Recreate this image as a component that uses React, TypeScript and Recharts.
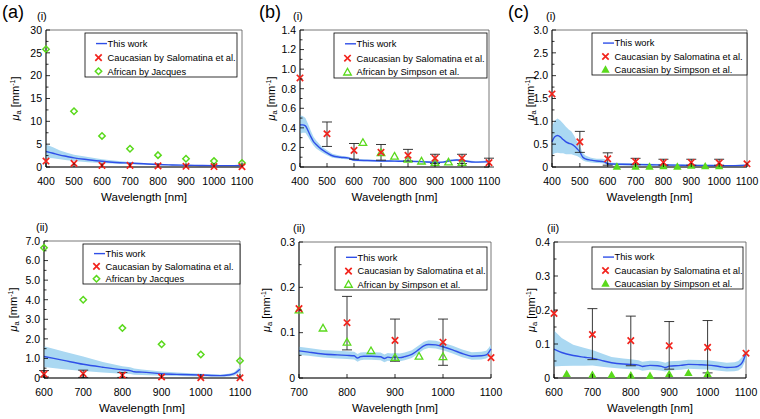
import React from 'react';
import { ComposedChart, Area, Line, Scatter, ErrorBar, XAxis, YAxis, ReferenceArea } from 'recharts';

const FONT = '"Liberation Sans", Arial, Helvetica, sans-serif';
const BLUE = '#2f4fe8';
const BAND = '#aad8f2';
const RED = '#f2231c';
const GREEN = '#5ad91c';

// shared axis ticks
const xTicks400 = [400, 500, 600, 700, 800, 900, 1000, 1100];
const xTicks600 = [600, 700, 800, 900, 1000, 1100];
const xTicks700 = [700, 800, 900, 1000, 1100];
const refWl400 = [400, 500, 600, 700, 800, 900, 1000, 1100];
const refWl600 = [600, 700, 800, 900, 1000, 1100];
const refWl700 = [700, 800, 900, 1000, 1100];
const simpsonWl = [633, 700, 750, 800, 850, 900, 950, 1000];
const simpsonWl2 = [700, 750, 800, 850, 900, 950, 1000];

// (a)(i)
const aiWl = [400, 425, 450, 475, 500, 550, 600, 650, 700, 750, 800, 850, 900, 950, 1000, 1050, 1100];
const aiMean = [3.4, 3.0, 2.6, 2.3, 2.0, 1.6, 1.25, 1.0, 0.85, 0.7, 0.55, 0.45, 0.38, 0.33, 0.3, 0.3, 0.32];
const aiLo = [2.0, 1.9, 1.7, 1.5, 1.3, 1.05, 0.85, 0.7, 0.6, 0.5, 0.4, 0.32, 0.27, 0.24, 0.22, 0.22, 0.24];
const aiHi = [4.9, 4.3, 3.6, 3.1, 2.7, 2.2, 1.7, 1.35, 1.1, 0.9, 0.72, 0.6, 0.5, 0.43, 0.4, 0.39, 0.42];
const aiRed = [1.3, 0.8, 0.35, 0.35, 0.25, 0.15, 0.1, 0.05];
const aiGreen = [25.8, 12.2, 6.8, 4.0, 2.6, 1.8, 1.3, 0.9];
const aiYTicks = [0, 2.5, 5, 7.5, 10, 12.5, 15, 17.5, 20, 22.5, 25, 27.5, 30];
const aiYMajor = [0, 5, 10, 15, 20, 25, 30];
const aiYLabels = ['0', '5', '10', '15', '20', '25', '30'];

// (a)(ii)
const aiiWl = [600, 650, 700, 750, 800, 820, 830, 850, 900, 950, 1000, 1050, 1070, 1085, 1100];
const aiiMean = [1.1, 0.9, 0.7, 0.55, 0.42, 0.38, 0.32, 0.3, 0.22, 0.18, 0.15, 0.12, 0.15, 0.22, 0.45];
const aiiLo = [0.56, 0.45, 0.36, 0.28, 0.22, 0.2, 0.17, 0.15, 0.12, 0.1, 0.08, 0.07, 0.08, 0.12, 0.3];
const aiiHi = [1.62, 1.35, 1.1, 0.82, 0.6, 0.55, 0.48, 0.44, 0.33, 0.27, 0.22, 0.18, 0.22, 0.3, 0.58];
const aiiRed = [0.2, 0.22, 0.15, 0.05, 0.02, 0.01];
const aiiRedLo = [0.05, 0.03, 0.03, null, null, null];
const aiiRedHi = [0.38, 0.4, 0.28, null, null, null];
const aiiGreen = [6.65, 4.0, 2.55, 1.72, 1.2, 0.88];
const aiiYTicks = [0, 0.5, 1, 1.5, 2, 2.5, 3, 3.5, 4, 4.5, 5, 5.5, 6, 6.5, 7];
const aiiYMajor = [0, 1, 2, 3, 4, 5, 6, 7];
const aiiYLabels = ['0', '1.0', '2.0', '3.0', '4.0', '5.0', '6.0', '7.0'];

// (b)(i)
const biWl = [400, 410, 420, 430, 440, 450, 460, 480, 500, 520, 550, 580, 600, 650, 700, 750, 800, 850, 900, 930, 960, 980, 1000, 1050, 1100];
const biMean = [0.43, 0.43, 0.42, 0.37, 0.31, 0.26, 0.23, 0.18, 0.145, 0.115, 0.1, 0.09, 0.072, 0.066, 0.062, 0.06, 0.058, 0.055, 0.046, 0.05, 0.066, 0.072, 0.066, 0.05, 0.055];
const biLo = [0.34, 0.35, 0.35, 0.31, 0.26, 0.22, 0.19, 0.15, 0.12, 0.095, 0.085, 0.076, 0.06, 0.055, 0.052, 0.05, 0.048, 0.045, 0.037, 0.041, 0.056, 0.062, 0.056, 0.041, 0.045];
const biHi = [0.53, 0.52, 0.5, 0.44, 0.37, 0.31, 0.27, 0.21, 0.17, 0.135, 0.115, 0.105, 0.085, 0.077, 0.072, 0.07, 0.068, 0.065, 0.055, 0.059, 0.076, 0.082, 0.076, 0.059, 0.066];
const biRed = [0.91, 0.34, 0.17, 0.15, 0.12, 0.09, 0.09, 0.045];
const biRedLo = [null, 0.21, 0.08, 0.07, 0.06, 0.035, 0.035, 0.0];
const biRedHi = [null, 0.46, 0.24, 0.23, 0.18, 0.13, 0.13, 0.09];
const biGreen = [0.25, 0.145, 0.11, 0.079, 0.06, 0.045, 0.05, 0.045];
const biYTicks = [0, 0.1, 0.2, 0.3, 0.4, 0.5, 0.6, 0.7, 0.8, 0.9, 1.0, 1.1, 1.2, 1.3, 1.4];
const biYMajor = [0, 0.2, 0.4, 0.6, 0.8, 1.0, 1.2, 1.4];
const biYLabels = ['0', '0.2', '0.4', '0.6', '0.8', '1.0', '1.2', '1.4'];

// (b)(ii)
const biiWl = [700, 720, 750, 780, 800, 815, 822, 828, 835, 850, 870, 878, 885, 892, 900, 910, 920, 935, 950, 960, 970, 985, 1000, 1020, 1040, 1060, 1080, 1090, 1095, 1100];
const biiMean = [0.06, 0.057, 0.053, 0.051, 0.05, 0.049, 0.044, 0.047, 0.048, 0.048, 0.047, 0.043, 0.046, 0.045, 0.046, 0.045, 0.047, 0.052, 0.063, 0.071, 0.074, 0.073, 0.069, 0.062, 0.054, 0.048, 0.049, 0.051, 0.056, 0.064];
const biiLo = [0.051, 0.049, 0.045, 0.043, 0.042, 0.041, 0.036, 0.039, 0.04, 0.04, 0.039, 0.035, 0.038, 0.037, 0.038, 0.037, 0.039, 0.044, 0.055, 0.063, 0.066, 0.065, 0.061, 0.054, 0.046, 0.04, 0.041, 0.043, 0.047, 0.055];
const biiHi = [0.069, 0.066, 0.062, 0.06, 0.059, 0.058, 0.053, 0.056, 0.057, 0.057, 0.056, 0.052, 0.055, 0.054, 0.055, 0.054, 0.056, 0.061, 0.072, 0.08, 0.083, 0.082, 0.078, 0.071, 0.063, 0.057, 0.058, 0.06, 0.066, 0.074];
const biiRed = [0.153, 0.122, 0.083, 0.079, 0.045];
const biiRedLo = [null, 0.062, 0.037, 0.028, null];
const biiRedHi = [null, 0.18, 0.13, 0.13, null];
const biiGreen = [0.15, 0.11, 0.079, 0.06, 0.045, 0.048, 0.047];
const biiYTicks = [0, 0.05, 0.1, 0.15, 0.2, 0.25, 0.3];
const biiYMajor = [0, 0.1, 0.2, 0.3];
const biiYLabels = ['0', '0.1', '0.2', '0.3'];

// (c)(i)
const ciWl = [400, 410, 420, 430, 440, 450, 460, 470, 480, 490, 500, 510, 520, 540, 560, 580, 590, 600, 650, 700, 750, 800, 850, 900, 950, 1000, 1050, 1100];
const ciMean = [0.55, 0.66, 0.69, 0.66, 0.6, 0.55, 0.52, 0.5, 0.46, 0.4, 0.33, 0.22, 0.18, 0.15, 0.13, 0.12, 0.11, 0.07, 0.06, 0.055, 0.05, 0.045, 0.04, 0.035, 0.035, 0.03, 0.03, 0.04];
const ciLo = [0.27, 0.3, 0.31, 0.3, 0.3, 0.28, 0.28, 0.28, 0.26, 0.24, 0.2, 0.15, 0.12, 0.1, 0.09, 0.08, 0.07, 0.04, 0.035, 0.03, 0.028, 0.025, 0.022, 0.02, 0.02, 0.017, 0.017, 0.022];
const ciHi = [0.9, 1.02, 1.06, 1.02, 0.95, 0.88, 0.82, 0.78, 0.68, 0.56, 0.46, 0.31, 0.25, 0.2, 0.18, 0.18, 0.17, 0.1, 0.085, 0.08, 0.072, 0.065, 0.058, 0.05, 0.05, 0.043, 0.043, 0.058];
const ciRed = [1.6, 0.55, 0.18, 0.12, 0.1, 0.1, 0.09, 0.07];
const ciRedLo = [null, 0.32, 0.04, 0.05, 0.04, 0.04, 0.04, null];
const ciRedHi = [null, 0.78, 0.31, 0.19, 0.17, 0.17, 0.17, null];
const ciGreen = [0.01, 0.01, 0.01, 0.02, 0.01, 0.03, 0.02, 0.02];
const ciYTicks = [0, 0.25, 0.5, 0.75, 1, 1.25, 1.5, 1.75, 2, 2.25, 2.5, 2.75, 3];
const ciYMajor = [0, 0.5, 1, 1.5, 2, 2.5, 3];
const ciYLabels = ['0', '0.5', '1.0', '1.5', '2.0', '2.5', '3.0'];

// (c)(ii)
const ciiWl = [600, 620, 650, 680, 700, 730, 750, 780, 800, 820, 830, 850, 870, 880, 890, 900, 930, 950, 980, 1000, 1030, 1050, 1070, 1080, 1090, 1100];
const ciiMean = [0.085, 0.075, 0.066, 0.061, 0.058, 0.05, 0.045, 0.041, 0.04, 0.038, 0.034, 0.037, 0.036, 0.034, 0.031, 0.035, 0.037, 0.04, 0.039, 0.038, 0.034, 0.031, 0.032, 0.035, 0.045, 0.073];
const ciiLo = [0.034, 0.035, 0.036, 0.036, 0.037, 0.032, 0.03, 0.027, 0.026, 0.025, 0.021, 0.024, 0.023, 0.021, 0.019, 0.022, 0.024, 0.027, 0.026, 0.025, 0.021, 0.019, 0.02, 0.022, 0.03, 0.055];
const ciiHi = [0.14, 0.118, 0.098, 0.088, 0.082, 0.07, 0.062, 0.057, 0.055, 0.052, 0.048, 0.051, 0.05, 0.048, 0.045, 0.049, 0.051, 0.054, 0.053, 0.052, 0.048, 0.045, 0.046, 0.05, 0.062, 0.09];
const ciiRed = [0.19, 0.128, 0.11, 0.095, 0.09, 0.073];
const ciiRedLo = [null, 0.054, 0.036, 0.026, 0.015, null];
const ciiRedHi = [null, 0.204, 0.182, 0.166, 0.169, null];
const ciiGreen = [0.012, 0.01, 0.009, 0.008, 0.007, 0.012, 0.015, 0.012];
const ciiYTicks = [0, 0.05, 0.1, 0.15, 0.2, 0.25, 0.3, 0.35, 0.4];
const ciiYMajor = [0, 0.1, 0.2, 0.3, 0.4];
const ciiYLabels = ['0', '0.1', '0.2', '0.3', '0.4'];

const labelsA = ['This work', 'Caucasian by Salomatina et al.', 'African by Jacques'];
const labelsB = ['This work', 'Caucasian by Salomatina et al.', 'African by Simpson et al.'];
const labelsC = ['This work', 'Caucasian by Salomatina et al.', 'Caucasian by Simpson et al.'];

const curve = (wl: number[], mean: number[], lo: number[], hi: number[]) =>
  wl.map((x, i) => ({ x, y: mean[i], band: [lo[i], hi[i]] }));

const points = (wl: number[], val: number[], lo?: (number | null)[], hi?: (number | null)[]) =>
  wl.map((x, i) => {
    const l = lo ? lo[i] : null;
    const h = hi ? hi[i] : null;
    return { x, y: val[i], err: l != null && h != null ? [val[i] - l, h - val[i]] : null };
  });

// markers
const Cross = (p: any) => {
  const { cx, cy } = p;
  if (cx == null || cy == null) return <g />;
  const r = 3.2;
  return (
    <path
      d={`M${cx - r},${cy - r}L${cx + r},${cy + r}M${cx - r},${cy + r}L${cx + r},${cy - r}`}
      stroke={RED}
      strokeWidth={1.7}
      fill="none"
    />
  );
};
const Diamond = (p: any) => {
  const { cx, cy } = p;
  if (cx == null || cy == null) return <g />;
  const r = 3.2;
  return <path d={`M${cx},${cy - r}L${cx + r},${cy}L${cx},${cy + r}L${cx - r},${cy}Z`} stroke={GREEN} strokeWidth={1.5} fill="none" />;
};
const TriOpen = (p: any) => {
  const { cx, cy } = p;
  if (cx == null || cy == null) return <g />;
  const r = 3.8;
  return <path d={`M${cx},${cy - r}L${cx + r},${cy + r * 0.75}L${cx - r},${cy + r * 0.75}Z`} stroke={GREEN} strokeWidth={1.3} fill="none" />;
};
const TriFill = (p: any) => {
  const { cx, cy } = p;
  if (cx == null || cy == null) return <g />;
  const r = 4.2;
  return <path d={`M${cx},${cy - r}L${cx + r},${cy + r * 0.75}L${cx - r},${cy + r * 0.75}Z`} fill={GREEN} stroke="none" />;
};

const YW = 30;
const XH = 30;

type Rect = { left: number; top: number; right: number; bottom: number };

const panels = [
  {
    id: 'ai',
    frame: { left: 0, top: 0, width: 250, height: 210 },
    box: { left: 46, top: 30, right: 242, bottom: 167 },
    xDomain: [400, 1100], xTicks: xTicks400,
    yDomain: [0, 30], yTicks: aiYTicks, yMajor: aiYMajor, yLabels: aiYLabels,
    band: curve(aiWl, aiMean, aiLo, aiHi),
    red: points(refWl400, aiRed),
    green: points(refWl400, aiGreen),
    shape: Diamond, legend: labelsA,
    legendBox: { x: 85, y: 33, w: 152, h: 44 },
    letter: '(a)', letterX: 2, roman: '(i)', romanX: 37, yLabelX: 15,
  },
  {
    id: 'bi',
    frame: { left: 250, top: 0, width: 250, height: 210 },
    box: { left: 300, top: 30, right: 489, bottom: 167 },
    xDomain: [400, 1100], xTicks: xTicks400,
    yDomain: [0, 1.4], yTicks: biYTicks, yMajor: biYMajor, yLabels: biYLabels,
    band: curve(biWl, biMean, biLo, biHi),
    red: points(refWl400, biRed, biRedLo, biRedHi),
    green: points(simpsonWl, biGreen),
    shape: TriOpen, legend: labelsB,
    legendBox: { x: 334, y: 33, w: 153, h: 45 },
    letter: '(b)', letterX: 259, roman: '(i)', romanX: 293, yLabelX: 271,
  },
  {
    id: 'ci',
    frame: { left: 500, top: 0, width: 260, height: 210 },
    box: { left: 552, top: 30, right: 747, bottom: 167 },
    xDomain: [400, 1100], xTicks: xTicks400,
    yDomain: [0, 3], yTicks: ciYTicks, yMajor: ciYMajor, yLabels: ciYLabels,
    band: curve(ciWl, ciMean, ciLo, ciHi),
    red: points(refWl400, ciRed, ciRedLo, ciRedHi),
    green: points(simpsonWl, ciGreen),
    shape: TriFill, legend: labelsC,
    legendBox: { x: 592, y: 33, w: 155, h: 42 },
    letter: '(c)', letterX: 508, roman: '(i)', romanX: 546, yLabelX: 530,
  },
  {
    id: 'aii',
    frame: { left: 0, top: 210, width: 250, height: 209 },
    box: { left: 44, top: 241, right: 240, bottom: 378 },
    xDomain: [600, 1100], xTicks: xTicks600,
    yDomain: [0, 7], yTicks: aiiYTicks, yMajor: aiiYMajor, yLabels: aiiYLabels,
    band: curve(aiiWl, aiiMean, aiiLo, aiiHi),
    red: points(refWl600, aiiRed, aiiRedLo, aiiRedHi),
    green: points(refWl600, aiiGreen),
    shape: Diamond, legend: labelsA,
    legendBox: { x: 83, y: 244, w: 157, h: 40 },
    letter: '', letterX: 0, roman: '(ii)', romanX: 36, yLabelX: 13,
  },
  {
    id: 'bii',
    frame: { left: 250, top: 210, width: 250, height: 209 },
    box: { left: 299, top: 242, right: 491, bottom: 378 },
    xDomain: [700, 1100], xTicks: xTicks700,
    yDomain: [0, 0.3], yTicks: biiYTicks, yMajor: biiYMajor, yLabels: biiYLabels,
    band: curve(biiWl, biiMean, biiLo, biiHi),
    red: points(refWl700, biiRed, biiRedLo, biiRedHi),
    green: points(simpsonWl2, biiGreen),
    shape: TriOpen, legend: labelsB,
    legendBox: { x: 335, y: 247, w: 152, h: 43 },
    letter: '', letterX: 0, roman: '(ii)', romanX: 293, yLabelX: 266,
  },
  {
    id: 'cii',
    frame: { left: 500, top: 210, width: 260, height: 209 },
    box: { left: 554, top: 242, right: 746, bottom: 378 },
    xDomain: [600, 1100], xTicks: xTicks600,
    yDomain: [0, 0.4], yTicks: ciiYTicks, yMajor: ciiYMajor, yLabels: ciiYLabels,
    band: curve(ciiWl, ciiMean, ciiLo, ciiHi),
    red: points(refWl600, ciiRed, ciiRedLo, ciiRedHi),
    green: points(simpsonWl, ciiGreen),
    shape: TriFill, legend: labelsC,
    legendBox: { x: 592, y: 247, w: 151, h: 42 },
    letter: '', letterX: 0, roman: '(ii)', romanX: 547, yLabelX: 531,
  },
];

function XTick(props: any) {
  const { x, y, payload } = props;
  return (
    <g>
      <line x1={x} x2={x} y1={y} y2={y - 4} stroke="#000" strokeWidth={0.8} />
      <text x={x} y={y + 17.5} textAnchor="middle" fontSize={10.5} fontFamily={FONT} fill="#000">
        {payload.value}
      </text>
    </g>
  );
}

function YTick(props: any) {
  const { x, y, payload, major, labels } = props;
  const idx = major.findIndex((v: number) => Math.abs(v - payload.value) < 1e-9);
  const isMajor = idx >= 0;
  return (
    <g>
      <line x1={x} x2={x + (isMajor ? 4 : 2.5)} y1={y} y2={y} stroke="#000" strokeWidth={0.8} />
      {isMajor && (
        <text x={x - 4} y={y + 3.8} textAnchor="end" fontSize={10.5} fontFamily={FONT} fill="#000">
          {labels[idx]}
        </text>
      )}
    </g>
  );
}

function Panel({ cfg }: { cfg: any }) {
  const { frame, box, xDomain, xTicks, yDomain, yTicks, yMajor, yLabels, band, red, green, shape } = cfg;
  const b = box as Rect;
  const margin = {
    top: b.top - frame.top,
    left: b.left - frame.left - YW,
    right: frame.left + frame.width - b.right,
    bottom: frame.top + frame.height - b.bottom - XH,
  };
  const Shape = shape;
  return (
    <div style={{ position: 'absolute', left: frame.left, top: frame.top }}>
      <ComposedChart width={frame.width} height={frame.height} margin={margin}>
        <XAxis
          type="number"
          dataKey="x"
          domain={xDomain}
          ticks={xTicks}
          interval={0}
          height={XH}
          tickSize={0}
          tickMargin={0}
          tickLine={false}
          axisLine={{ stroke: '#000', strokeWidth: 0.8 }}
          tick={(p: any) => <XTick {...p} />}
        />
        <YAxis
          type="number"
          domain={yDomain}
          ticks={yTicks}
          interval={0}
          width={YW}
          tickSize={0}
          tickMargin={0}
          tickLine={false}
          axisLine={{ stroke: '#000', strokeWidth: 0.8 }}
          tick={(p: any) => <YTick {...p} major={yMajor} labels={yLabels} />}
        />
        <ReferenceArea
          x1={xDomain[0]}
          x2={xDomain[1]}
          y1={yDomain[0]}
          y2={yDomain[1]}
          fill="none"
          stroke="#555"
          strokeWidth={0.8}
          ifOverflow="visible"
        />
        <Area
          data={band}
          dataKey="band"
          type="linear"
          fill={BAND}
          fillOpacity={1}
          stroke="none"
          isAnimationActive={false}
        />
        <Line
          data={band}
          dataKey="y"
          type="monotone"
          stroke={BLUE}
          strokeWidth={1.4}
          dot={false}
          isAnimationActive={false}
        />
        <Scatter data={green} dataKey="y" shape={(p: any) => <Shape {...p} />} isAnimationActive={false} />
        <Scatter data={red} dataKey="y" shape={(p: any) => <Cross {...p} />} isAnimationActive={false}>
          <ErrorBar dataKey="err" direction="y" width={5} stroke="#222" strokeWidth={0.9} isAnimationActive={false} />
        </Scatter>
      </ComposedChart>
    </div>
  );
}

function LegendBox({ lb, labels, shape }: any) {
  const rows = [0.24, 0.56, 0.87].map((f) => lb.y + lb.h * f);
  const Shape = shape;
  const mx = lb.x + 13.5;
  return (
    <g>
      <rect x={lb.x} y={lb.y} width={lb.w} height={lb.h} fill="#fff" stroke="#000" strokeWidth={0.8} />
      <line x1={lb.x + 11} x2={lb.x + 22} y1={rows[0]} y2={rows[0]} stroke={BLUE} strokeWidth={1.4} />
      <Cross cx={mx} cy={rows[1]} />
      <Shape cx={mx} cy={rows[2]} />
      {labels.map((t: string, i: number) => (
        <text key={t} x={lb.x + 22.5} y={rows[i] + 3.3} fontSize={9.3} fontFamily={FONT} fill="#000">
          {t}
        </text>
      ))}
    </g>
  );
}

function Overlay() {
  return (
    <svg width={760} height={419} style={{ position: 'absolute', left: 0, top: 0, pointerEvents: 'none' }}>
      {panels.map((p) => {
        const b = p.box as Rect;
        const cx = (b.left + b.right) / 2;
        const cy = (b.top + b.bottom) / 2;
        return (
          <g key={p.id}>
            {p.letter && (
              <text x={p.letterX} y={18} fontSize={18} fontFamily={FONT} fill="#000">
                {p.letter}
              </text>
            )}
            <text x={p.romanX} y={b.top - 10.5} fontSize={11} fontFamily={FONT} fill="#000">
              {p.roman}
            </text>
            <text x={cx} y={b.bottom + 34} textAnchor="middle" fontSize={11.5} fontFamily={FONT} fill="#000">
              Wavelength [nm]
            </text>
            <text
              transform={`translate(${p.yLabelX},${cy}) rotate(-90)`}
              textAnchor="middle"
              dy="0.35em"
              fontSize={11}
              fontFamily={FONT}
              fill="#000"
            >
              <tspan fontStyle="italic">μ</tspan>
              <tspan fontSize={7.5} dy={2.5}>a</tspan>
              <tspan dy={-2.5}> [mm</tspan>
              <tspan fontSize={7} dy={-4}>-1</tspan>
              <tspan dy={4}>]</tspan>
            </text>
            <LegendBox lb={p.legendBox} labels={p.legend} shape={p.shape} />
          </g>
        );
      })}
    </svg>
  );
}

export default function App() {
  return (
    <div style={{ position: 'absolute', left: 0, top: 0, width: 760, height: 419, background: '#fff', fontFamily: FONT }}>
      <style>{'.recharts-surface, .recharts-wrapper { overflow: visible !important; }'}</style>
      {panels.map((p) => (
        <Panel key={p.id} cfg={p} />
      ))}
      <Overlay />
    </div>
  );
}
